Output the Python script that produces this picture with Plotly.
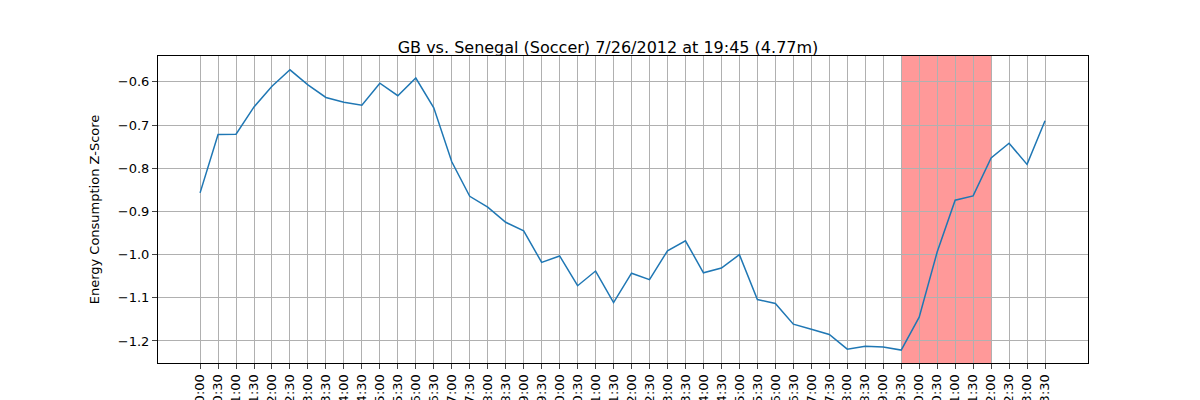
import plotly.graph_objects as go

labels = ([f"{h}:{m}" for h in range(10) for m in ("00", "30")] * 2
          + [f"{h}:{m}" for h in range(4) for m in ("00", "30")])
values = [-0.857, -0.722, -0.721, -0.658, -0.61, -0.572, -0.607, -0.636, -0.647, -0.654,
          -0.603, -0.632, -0.591, -0.66, -0.785, -0.865, -0.89, -0.925, -0.945, -1.018,
          -1.003, -1.072, -1.038, -1.111, -1.043, -1.058, -0.991, -0.968, -1.042, -1.031,
          -1.0, -1.104, -1.113, -1.161, -1.173, -1.185, -1.219, -1.212, -1.214, -1.221,
          -1.145, -0.994, -0.874, -0.864, -0.776, -0.742, -0.791, -0.69]
span_start, span_end = 39, 44
x = list(range(len(values)))

fig = go.Figure()
fig.add_vrect(x0=span_start, x1=span_end, fillcolor="#ff9999", opacity=1, line_width=0, layer="below")
fig.add_trace(go.Scatter(x=x, y=values, mode="lines", line=dict(color="#1f77b4", width=1.5)))
fig.update_layout(
    width=1200, height=400, margin=dict(l=150, r=120, t=48, b=45),
    plot_bgcolor="rgba(0,0,0,0)", paper_bgcolor="white", showlegend=False,
    title=dict(text="GB vs. Senegal (Soccer) 7/26/2012 at 19:45 (4.77m)", x=0.5, y=0.915,
               xanchor="center", font=dict(size=16, color="black")),
    font=dict(family="DejaVu Sans", size=13, color="black"),
)
fig.update_xaxes(range=[-2.34, 49.39], tickvals=x, ticktext=labels, tickangle=-90,
                 showgrid=True, gridcolor="#b0b0b0", mirror=True, showline=True, automargin=False,
                 linecolor="black", ticks="outside", zeroline=False)
fig.update_yaxes(range=[-1.251, -0.54], tickvals=[-0.6, -0.7, -0.8, -0.9, -1.0, -1.1, -1.2],
                 tickformat=".1f", title=dict(text="Energy Consumption Z-Score", font=dict(size=13)),
                 showgrid=True, gridcolor="#b0b0b0", mirror=True, showline=True, automargin=False,
                 linecolor="black", ticks="outside", zeroline=False)
fig.write_html("out.html")
